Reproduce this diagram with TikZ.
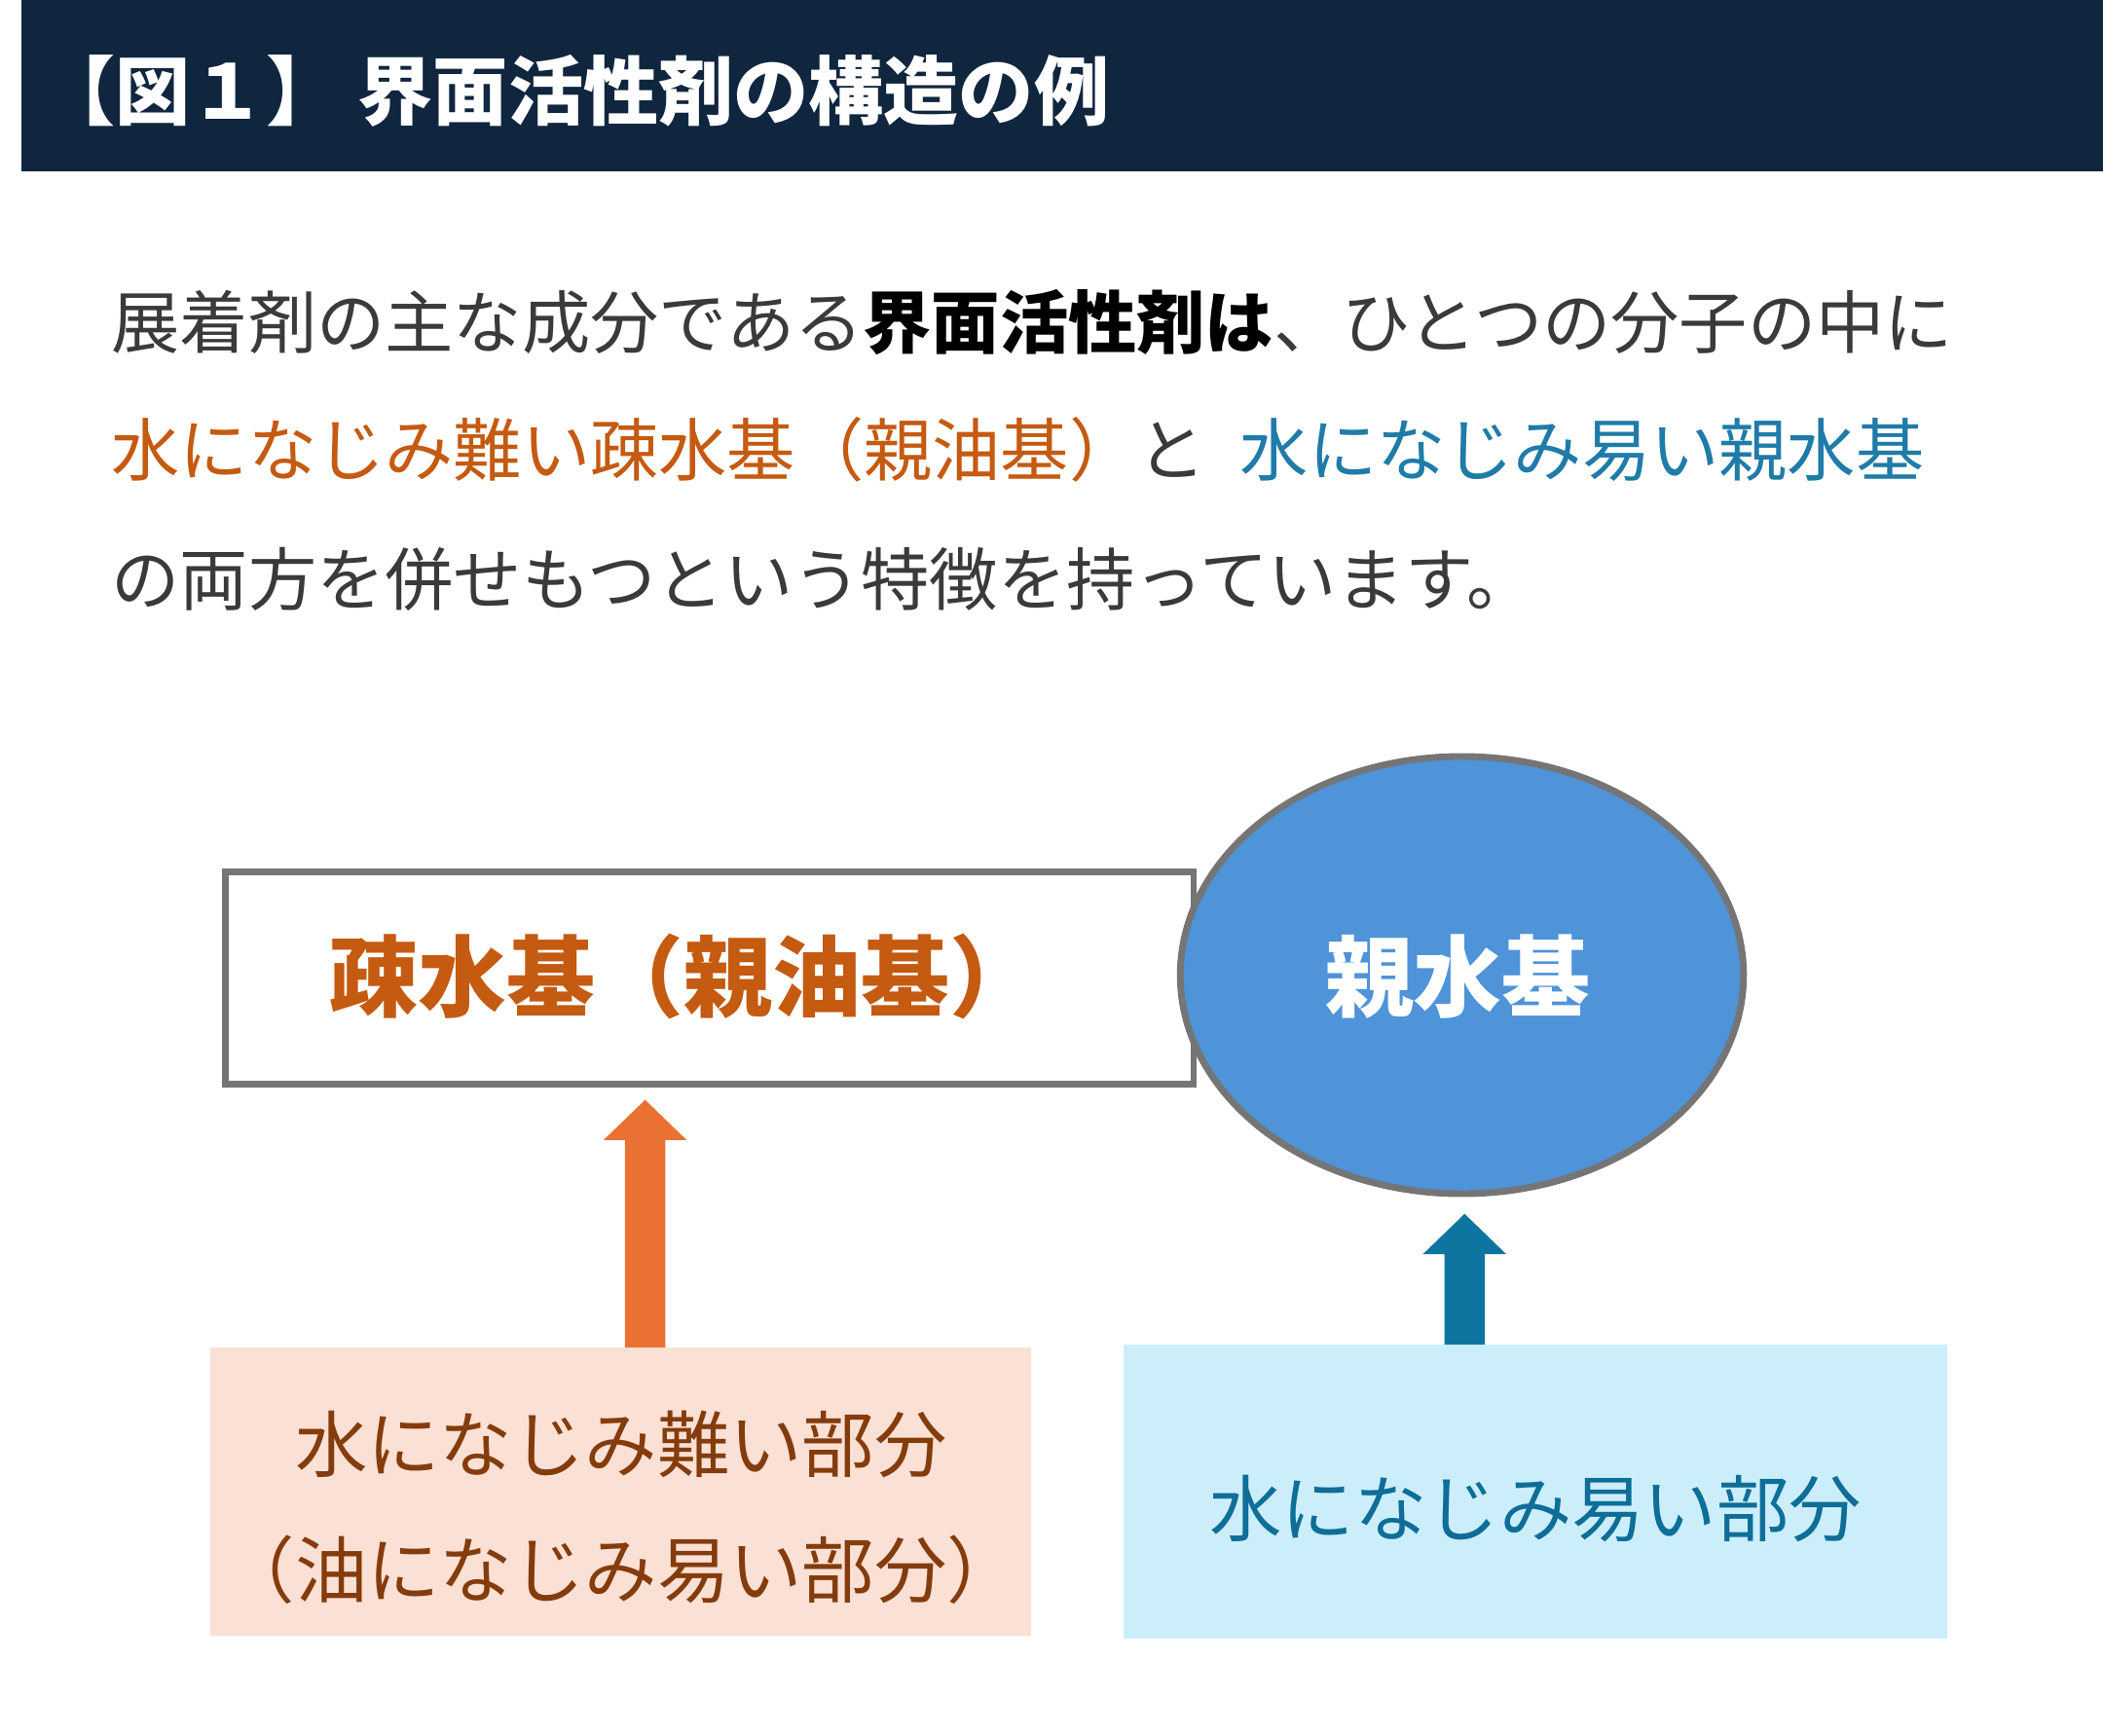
\documentclass[tikz,border=0pt]{standalone}
\usepackage{fontspec}
\setmainfont{Noto Sans CJK JP}
\usetikzlibrary{shapes.geometric}
\definecolor{navy}{HTML}{10263F}
\definecolor{txt}{HTML}{3A3A3A}
\definecolor{org}{HTML}{C55A11}
\definecolor{blu}{HTML}{1F7BA8}
\definecolor{brn}{HTML}{843C0C}
\definecolor{dblu}{HTML}{0E6E98}
\definecolor{bord}{HTML}{757575}
\definecolor{ellf}{HTML}{4F93D8}
\definecolor{arro}{HTML}{E97132}
\definecolor{arrb}{HTML}{0E74A0}
\definecolor{pinkf}{HTML}{FBE0D5}
\definecolor{lbluf}{HTML}{CCEEFB}
\newcommand{\fs}[1]{\fontsize{#1}{#1}\selectfont}
\tikzset{para/.style={anchor=west,inner sep=0,text=txt,font=\fs{51}},
 lbl/.style={inner sep=0,font=\fs{54}}}
\begin{document}
\begin{tikzpicture}[x=1pt,y=-1pt]
\useasboundingbox (0,0) rectangle (1568,1294);
\fill[navy] (16,0) rectangle (1568,128);
\node[anchor=west,inner sep=0,text=white,font=\fs{56}\bfseries] (title) at (30,68) {【図１】 界面活性剤の構造の例};
\node[para] (l1) at (83,240) {展着剤の主な成分である\textbf{\textcolor{black}{界面活性剤は}}、ひとつの分子の中に};
\node[para] (l2) at (83,335) {\textcolor{org}{水になじみ難い疎水基（親油基）}と\hspace{0.5em}\textcolor{blu}{水になじみ易い親水基}};
\node[para] (l3) at (83,432) {の両方を併せもつという特徴を持っています。};
\node[draw=bord,line width=5pt,fill=white,minimum width=722,minimum height=158,inner sep=0] (rect) at (529,729) {};
\node[text=org,font=\fs{66}\bfseries,inner sep=0] (rt) at (510,728) {疎水基（親油基）};
\node[ellipse,draw=bord,line width=5pt,fill=ellf,minimum width=420,minimum height=326,inner sep=0] (ell) at (1090,727) {};
\node[text=white,font=\fs{66}\bfseries,inner sep=0] (et) at (1087,728) {親水基};
\fill[arro] (466,1005) -- (466,850) -- (450,850) -- (481,820) -- (512,850) -- (496,850) -- (496,1005) -- cycle;
\fill[arrb] (1077,1003) -- (1077,935) -- (1061,935) -- (1092,905) -- (1123,935) -- (1107,935) -- (1107,1003) -- cycle;
\node[fill=pinkf,minimum width=612,minimum height=215,inner sep=0] (pink) at (463,1112) {};
\node[lbl,text=brn] (p1) at (463,1077) {水になじみ難い部分};
\node[lbl,text=brn] (p2) at (463,1170) {（油になじみ易い部分）};
\node[fill=lbluf,minimum width=614,minimum height=219,inner sep=0] (lb) at (1145,1112) {};
\node[lbl,text=dblu] (b1) at (1145,1125) {水になじみ易い部分};
\end{tikzpicture}
\end{document}
